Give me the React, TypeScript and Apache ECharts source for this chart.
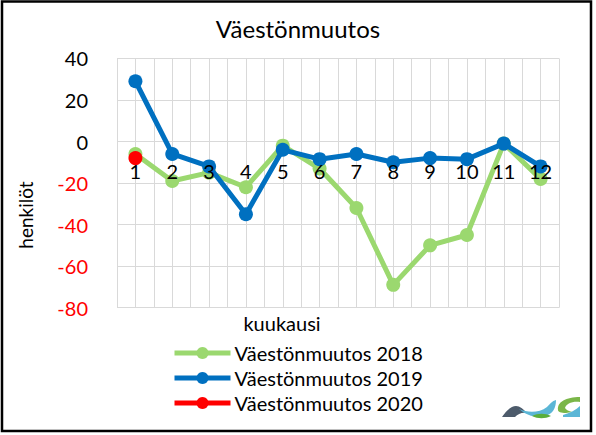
import React, { useEffect, useRef } from "react";
import * as echarts from "echarts";

const months = [1, 2, 3, 4, 5, 6, 7, 8, 9, 10, 11, 12];
const v2018 = [-6, -19, -15, -22, -2, -13, -32, -69, -50, -45, -1, -18];
const v2019 = [29, -6, -12, -35, -4, -8.5, -6, -10, -8, -8.5, -1, -12];
const v2020 = [-8];
const seriesNames = ["Väestönmuutos 2018", "Väestönmuutos 2019", "Väestönmuutos 2020"];
const seriesColors = ["#9BD86F", "#0070C0", "#FF0000"];
const yTicks = [40, 20, 0, -20, -40, -60, -80];

const FONT = "Lato";

const logoPaths: Record<string, [string, string]> = {
  logoDark: ["M502,417 C506,411 511,406 516,406 C520,406 523,409 527,413 C522,412 518,414 515,417 Z", "#4D5B6B"],
  logoBlue: ["M519,409 C528,413 539,413 547,407 C550,404 552,401 556,400 C556,408 553,414 545,416 C536,418 527,416 519,409 Z", "#5BB6D6"],
  logoGreenL: ["M532,416 C538,413 545,413 551,416 C545,419 538,419 532,416 Z", "#5AAE3C"],
  logoGreenR: ["M558,410 C557,402 566,397 580,397 L580,402 C572,401 566,404 565,408 C566,410 569,411 572,412 L566,413 C561,413 558,412 558,410 Z", "#7AB648"],
  logoBlueR: ["M563,415 C570,413 576,410 580,406 L580,417 L563,417 Z", "#5BB6D6"],
};

let registered = false;
function registerLogo() {
  if (registered) return;
  registered = true;
  for (const k of Object.keys(logoPaths)) {
    echarts.graphic.registerShape(k, echarts.graphic.extendPath(logoPaths[k][0], {}) as any);
  }
}

const GRID_TOP = 58.4;
const GRID_BOTTOM = 127.3;
const PLOT_H = 435 - GRID_TOP - GRID_BOTTOM;
const Y_MIN = yTicks[yTicks.length - 1];
const Y_MAX = yTicks[0];
// shift the category axis up so it sits on the zero line
const X_AXIS_OFFSET = -((0 - Y_MIN) / (Y_MAX - Y_MIN)) * PLOT_H;

export default function App() {
  const ref = useRef<HTMLDivElement>(null);
  useEffect(() => {
    if (!ref.current) return;
    registerLogo();
    const chart = echarts.init(ref.current, undefined, { renderer: "svg" });
    const mk = (vals: number[]) => vals.map((v, i) => [months[i], v]);
    const allData = [v2018, v2019, v2020];
    chart.setOption({
      animation: false,
      backgroundColor: "#ffffff",
      textStyle: { fontFamily: FONT },
      title: {
        text: "Väestönmuutos",
        left: "center",
        top: 11,
        textStyle: { fontFamily: FONT, fontSize: 24, fontWeight: "normal", color: "#000" },
      },
      grid: { left: 117, right: 37, top: GRID_TOP, bottom: GRID_BOTTOM, containLabel: false },
      xAxis: [
        {
          type: "value",
          min: 0.5,
          max: 12.5,
          interval: 0.5,
          axisLine: { show: false },
          axisTick: { show: false },
          axisLabel: { show: false },
          splitLine: { show: true, lineStyle: { color: "#D9D9D9", width: 1 } },
        },
        {
          type: "value",
          min: 0.5,
          max: 12.5,
          interval: 0.5,
          position: "bottom",
          offset: X_AXIS_OFFSET,
          z: 20,
          axisLine: { show: false, onZero: false },
          axisTick: { show: false },
          axisLabel: {
            fontFamily: FONT,
            fontSize: 20,
            color: "#000",
            margin: 19,
            showMinLabel: false,
            showMaxLabel: false,
            formatter: (v: number) => (Number.isInteger(v) && months.includes(v) ? String(v) : ""),
          },
          splitLine: { show: false },
        },
      ],
      yAxis: {
        type: "value",
        min: Y_MIN,
        max: Y_MAX,
        interval: 20,
        axisLine: { show: false },
        axisTick: { show: false },
        axisLabel: {
          fontFamily: FONT,
          fontSize: 20,
          margin: 29,
          color: (v: any) => (Number(v) < 0 ? "#FF0000" : "#000000"),
        },
        splitLine: { show: true, lineStyle: { color: "#D9D9D9", width: 1 } },
      },
      legend: {
        orient: "vertical",
        left: 172,
        top: 343,
        padding: 0,
        itemWidth: 56,
        itemHeight: 15,
        itemGap: 5,
        lineStyle: { width: 5 },
        textStyle: { fontFamily: FONT, fontSize: 20, color: "#000", padding: [0, 0, 0, -1] },
        data: seriesNames,
      },
      series: seriesNames.map((name, i) => ({
        name,
        type: "line",
        xAxisIndex: 0,
        data: mk(allData[i]),
        symbol: "circle",
        symbolSize: 14,
        showSymbol: true,
        lineStyle: { width: 5, color: seriesColors[i] },
        itemStyle: { color: seriesColors[i] },
        z: 2 + i,
      })),
      graphic: [
        {
          type: "rect",
          shape: { x: 2, y: 1.5, width: 589, height: 429.5 },
          style: { fill: "none", stroke: "#000", lineWidth: 2.5 },
          silent: true,
        },
        {
          type: "text",
          x: 282,
          y: 323,
          style: { text: "kuukausi", font: `20px ${FONT}`, fill: "#000", align: "center", verticalAlign: "middle" },
        },
        {
          type: "text",
          x: 25,
          y: 215,
          rotation: Math.PI / 2,
          style: { text: "henkilöt", font: `19px ${FONT}`, fill: "#000", align: "center", verticalAlign: "middle" },
        },
        ...Object.keys(logoPaths).map((k) => ({
          type: k,
          x: 0,
          y: 0,
          style: { fill: logoPaths[k][1] },
          silent: true,
        })),
      ],
    });
    return () => chart.dispose();
  }, []);
  return (
    <div
      ref={ref}
      style={{ position: "absolute", left: 0, top: 0, width: 596, height: 435, background: "#fff" }}
    />
  );
}
